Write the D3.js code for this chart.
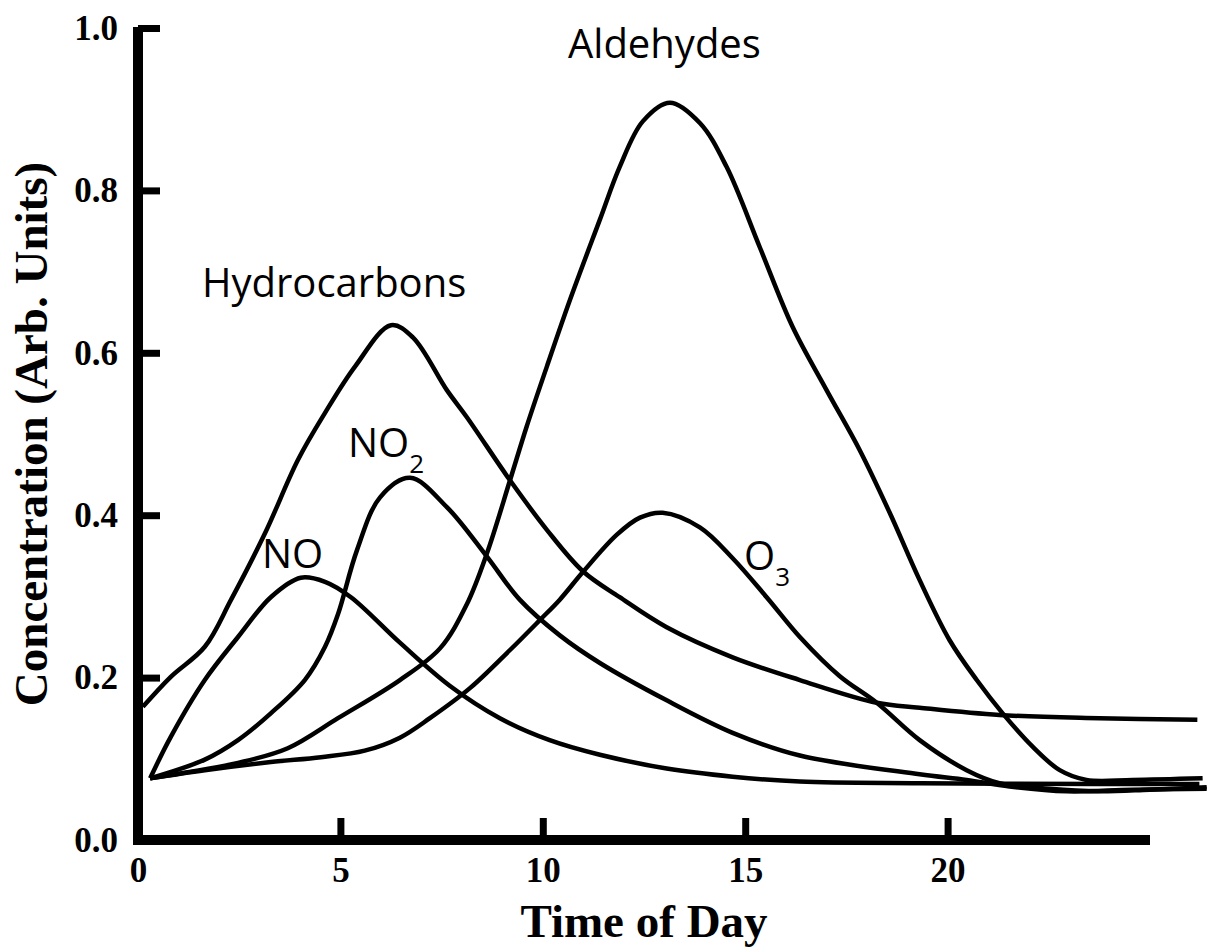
<!DOCTYPE html>
<html>
<head>
<meta charset="utf-8">
<script src="https://cdn.jsdelivr.net/npm/d3@7"></script>
<style>
  html, body { margin: 0; padding: 0; background: #fff; }
  svg { display: block; }
</style>
</head>
<body>
<script>
// ---- data (time of day, concentration in arbitrary units) ----
const xTicks = [0, 5, 10, 15, 20];
const yTicks = [0.0, 0.2, 0.4, 0.6, 0.8, 1.0];

const hydrocarbons = [
  [0.12,0.164],[0.81,0.201],[1.65,0.238],[2.30,0.296],[3.14,0.378],[3.95,0.468],
  [4.62,0.526],[5.36,0.583],[6.25,0.634],[6.79,0.619],[7.63,0.554],[8.12,0.521],
  [9.19,0.443],[10.10,0.382],[10.99,0.331],[11.90,0.299],[13.06,0.262],[14.69,0.225],
  [16.35,0.197],[18.25,0.169],[19.31,0.163],[21.28,0.154],[23.75,0.150],[26.17,0.148]
];
const no = [
  [0.30,0.076],[0.81,0.127],[1.65,0.197],[2.47,0.250],[3.28,0.299],[4.02,0.323],
  [4.62,0.318],[5.26,0.299],[6.47,0.243],[7.70,0.190],[8.94,0.150],[10.17,0.123],
  [11.41,0.105],[13.06,0.088],[14.69,0.078],[16.35,0.072],[19.31,0.070],[23.75,0.069],
  [26.22,0.069]
];
const no2 = [
  [0.30,0.076],[1.65,0.099],[2.47,0.123],[3.28,0.156],[4.12,0.197],[4.62,0.238],
  [4.94,0.278],[5.41,0.357],[5.98,0.422],[6.72,0.446],[7.63,0.410],[8.62,0.349],
  [9.43,0.296],[10.42,0.252],[11.41,0.218],[13.06,0.172],[14.69,0.132],[16.35,0.104],
  [19.31,0.081],[20.47,0.074],[21.53,0.066],[22.94,0.060],[24.57,0.062],[26.40,0.063]
];
const ozone = [
  [0.30,0.076],[1.65,0.086],[3.28,0.096],[4.52,0.102],[5.60,0.110],[6.47,0.126],
  [7.21,0.150],[8.20,0.187],[9.19,0.234],[9.93,0.271],[10.42,0.296],
  [10.99,0.330],[11.83,0.376],[12.40,0.397],[12.96,0.403],[13.88,0.385],[14.69,0.347],
  [15.53,0.299],[16.35,0.250],[17.33,0.202],[18.25,0.169],[19.31,0.123],[20.47,0.086],
  [21.28,0.070],[22.52,0.063],[23.75,0.060],[24.99,0.062],[26.40,0.065]
];
const aldehydes = [
  [0.30,0.076],[2.47,0.095],[3.70,0.113],[4.94,0.150],[6.47,0.197],[7.46,0.236],
  [8.12,0.290],[8.62,0.353],[9.19,0.443],[9.60,0.509],[10.10,0.583],[10.67,0.665],
  [11.41,0.764],[11.90,0.829],[12.47,0.885],[13.14,0.908],[13.88,0.883],[14.54,0.829],
  [15.36,0.730],[16.17,0.632],[17.01,0.554],[17.83,0.480],[18.57,0.403],[19.31,0.320],
  [20.05,0.246],[20.72,0.197],[21.36,0.156],[22.10,0.115],[22.77,0.086],[23.43,0.074],
  [24.57,0.074],[26.30,0.076]
];
const seriesList = [hydrocarbons, no, no2, ozone, aldehydes];

// ---- drawing ----
const W = 1209, H = 951;
const svg = d3.select("body").append("svg").attr("width", W).attr("height", H);

const x = d3.scaleLinear().domain([0, 25]).range([138, 1150]);
const y = d3.scaleLinear().domain([0, 1]).range([840, 28]);

const serif = "'Liberation Serif','Times New Roman',serif";
const sans = "'Open Sans','Noto Sans',sans-serif";

// curves
const line = d3.line()
  .x(d => x(d[0]))
  .y(d => y(d[1]))
  .curve(d3.curveCatmullRom.alpha(0.5));

svg.append("g").selectAll("path")
  .data(seriesList)
  .join("path")
  .attr("d", line)
  .attr("fill", "none")
  .attr("stroke", "#000")
  .attr("stroke-width", 4.5)
  .attr("stroke-linejoin", "round")
  .attr("stroke-linecap", "butt");

// y axis
const gy = svg.append("g").attr("transform", `translate(${x(0)},0)`)
  .call(d3.axisLeft(y).tickValues(yTicks).tickFormat(d3.format(".1f"))
    .tickSize(-22).tickSizeOuter(0).tickPadding(20));
gy.select(".domain").remove();
gy.selectAll(".tick line").attr("stroke", "#000").attr("stroke-width", 7);
gy.selectAll(".tick text").attr("font-family", serif).attr("font-weight", "bold")
  .attr("font-size", 35).attr("fill", "#000");

// x axis
const gx = svg.append("g").attr("transform", `translate(0,${y(0)})`)
  .call(d3.axisBottom(x).tickValues(xTicks).tickFormat(d3.format("d"))
    .tickSize(-22).tickSizeOuter(0).tickPadding(17));
gx.select(".domain").remove();
gx.selectAll(".tick line").attr("stroke", "#000").attr("stroke-width", 7);
gx.selectAll(".tick text").attr("font-family", serif).attr("font-weight", "bold")
  .attr("font-size", 35).attr("fill", "#000");

// thick axis lines
svg.append("line")
  .attr("x1", x(0)).attr("x2", x(0))
  .attr("y1", y(1) - 1).attr("y2", y(0) + 5)
  .attr("stroke", "#000").attr("stroke-width", 10);
svg.append("line")
  .attr("x1", x(0) - 5).attr("x2", x(25))
  .attr("y1", y(0)).attr("y2", y(0))
  .attr("stroke", "#000").attr("stroke-width", 10);

// axis titles
svg.append("text")
  .attr("x", (x(0) + x(25)) / 2).attr("y", 937)
  .attr("text-anchor", "middle")
  .attr("font-family", serif).attr("font-weight", "bold").attr("font-size", 47)
  .text("Time of Day");
svg.append("text")
  .attr("transform", `translate(47,${(y(0) + y(1)) / 2}) rotate(-90)`)
  .attr("text-anchor", "middle")
  .attr("font-family", serif).attr("font-weight", "bold").attr("font-size", 47)
  .text("Concentration (Arb. Units)");

// curve labels
function label(px, py, main, sub) {
  const t = svg.append("text").attr("x", px).attr("y", py)
    .attr("font-family", sans).attr("font-size", 40).attr("fill", "#000");
  t.append("tspan").text(main);
  if (sub) t.append("tspan").attr("dy", 16).attr("font-size", 26).text(sub);
}
label(568, 58, "Aldehydes");
label(202, 297, "Hydrocarbons");
label(262, 568, "NO");
label(348, 457, "NO", "2");
label(744, 570, "O", "3");
</script>
</body>
</html>
